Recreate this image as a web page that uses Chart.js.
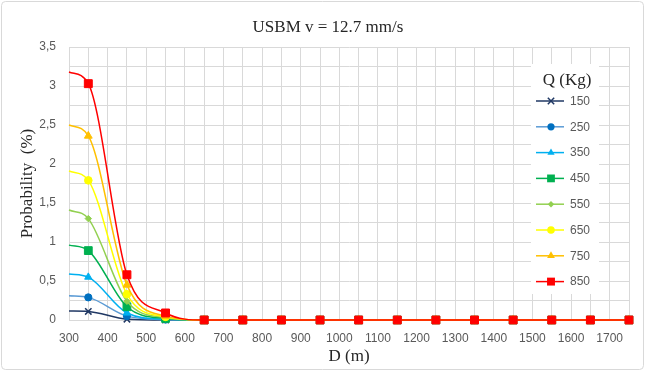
<!DOCTYPE html>
<html>
<head>
<meta charset="utf-8">
<script src="https://cdn.jsdelivr.net/npm/chart.js@4/dist/chart.umd.min.js"></script>
<style>
  html, body { margin: 0; padding: 0; background: #fff; }
  #wrap { width: 645px; height: 371px; }
</style>
</head>
<body>
<div id="wrap"><canvas id="usbmChart" width="645" height="371"></canvas></div>
<script>
(function () {
    'use strict';

    // distances D (m); first point at 300 has no marker
    const distances = [300, 350, 450, 550, 650, 750, 850, 950, 1050, 1150, 1250, 1350, 1450, 1550, 1650, 1750];
    const charges = ['150', '250', '350', '450', '550', '650', '750', '850'];

    const prob150 = [0.115, 0.11, 0.01, 0, 0, 0, 0, 0, 0, 0, 0, 0, 0, 0, 0, 0];
    const prob250 = [0.31, 0.29, 0.05, 0.005, 0, 0, 0, 0, 0, 0, 0, 0, 0, 0, 0, 0];
    const prob350 = [0.59, 0.55, 0.09, 0.01, 0, 0, 0, 0, 0, 0, 0, 0, 0, 0, 0, 0];
    const prob450 = [0.96, 0.89, 0.17, 0.02, 0, 0, 0, 0, 0, 0, 0, 0, 0, 0, 0, 0];
    const prob550 = [1.41, 1.30, 0.24, 0.03, 0, 0, 0, 0, 0, 0, 0, 0, 0, 0, 0, 0];
    const prob650 = [1.91, 1.79, 0.33, 0.04, 0, 0, 0, 0, 0, 0, 0, 0, 0, 0, 0, 0];
    const prob750 = [2.50, 2.36, 0.45, 0.05, 0, 0, 0, 0, 0, 0, 0, 0, 0, 0, 0, 0];
    const prob850 = [3.18, 3.03, 0.58, 0.09, 0, 0, 0, 0, 0, 0, 0, 0, 0, 0, 0, 0];

    const seriesValues = [prob150, prob250, prob350, prob450, prob550, prob650, prob750, prob850];

    const lineColors = ['#203864', '#5b9bd5', '#00b0f0', '#00b050', '#92d050', '#ffff00', '#ffc000', '#ff0000'];
    const markerColors = ['#203864', '#0070c0', '#00b0f0', '#00b050', '#92d050', '#ffff00', '#ffc000', '#ff0000'];
    const markerStyles = ['crossRot', 'circle', 'triangle', 'rect', 'rectRot', 'circle', 'triangle', 'rect'];
    const markerSizes = [4.5, 3.6, 4.2, 5.5, 3.2, 3.8, 4.5, 5.6];

    const tickFont = { family: 'Liberation Sans, Arial, sans-serif', size: 12 };
    const serif = 'Liberation Serif, Times New Roman, serif';

    const datasets = charges.map((q, i) => ({
        label: q,
        data: distances.map((d, k) => ({ x: d, y: seriesValues[i][k] })),
        borderColor: lineColors[i],
        backgroundColor: markerColors[i],
        pointBorderColor: markerColors[i],
        pointBackgroundColor: markerColors[i],
        pointStyle: markerStyles[i],
        pointRadius: ctx => ctx.dataIndex === 0 ? 0 : markerSizes[i],
        pointBorderWidth: markerStyles[i] === 'crossRot' ? 1.5 : 1,
        borderWidth: 1.5,
        cubicInterpolationMode: 'monotone',
        clip: false,
        order: charges.length - i
    }));

    function drawMarker(ctx, style, x, y, r, color) {
        ctx.save();
        ctx.fillStyle = color;
        ctx.strokeStyle = color;
        ctx.lineWidth = 1.5;
        ctx.beginPath();
        if (style === 'circle') {
            ctx.arc(x, y, r, 0, Math.PI * 2);
            ctx.fill();
        } else if (style === 'rect') {
            const s = r * Math.SQRT1_2;
            ctx.rect(x - s, y - s, 2 * s, 2 * s);
            ctx.fill();
        } else if (style === 'rectRot') {
            ctx.moveTo(x, y - r); ctx.lineTo(x + r, y); ctx.lineTo(x, y + r); ctx.lineTo(x - r, y);
            ctx.closePath();
            ctx.fill();
        } else if (style === 'triangle') {
            ctx.moveTo(x, y - r);
            ctx.lineTo(x + r * 0.866, y + r * 0.5);
            ctx.lineTo(x - r * 0.866, y + r * 0.5);
            ctx.closePath();
            ctx.fill();
        } else {
            const s = r * Math.SQRT1_2;
            ctx.moveTo(x - s, y - s); ctx.lineTo(x + s, y + s);
            ctx.moveTo(x + s, y - s); ctx.lineTo(x - s, y + s);
            ctx.stroke();
        }
        ctx.restore();
    }

    // frame, title and the overlaid legend box
    const decorPlugin = {
        id: 'decor',
        beforeDraw(chart) {
            const ctx = chart.ctx;
            ctx.save();
            ctx.fillStyle = '#fff';
            ctx.fillRect(0, 0, chart.width, chart.height);
            ctx.strokeStyle = '#d9d9d9';
            ctx.lineWidth = 1;
            ctx.beginPath();
            ctx.roundRect(1.5, 1.5, chart.width - 3, chart.height - 3, 4);
            ctx.stroke();
            ctx.fillStyle = '#262626';
            ctx.font = '17px ' + serif;
            ctx.textAlign = 'center';
            ctx.textBaseline = 'middle';
            ctx.fillText('USBM v = 12.7 mm/s', 328, 28);
            ctx.restore();
        },
        afterDraw(chart) {
            const ctx = chart.ctx;
            ctx.save();
            ctx.fillStyle = '#fff';
            ctx.fillRect(531, 64, 68, 230);
            ctx.fillStyle = '#262626';
            ctx.font = '17px ' + serif;
            ctx.textAlign = 'center';
            ctx.textBaseline = 'middle';
            ctx.fillText('Q (Kg)', 567, 81);
            ctx.font = '12px ' + tickFont.family;
            ctx.textAlign = 'left';
            charges.forEach((q, i) => {
                const y = 101 + i * 25.8;
                ctx.strokeStyle = lineColors[i];
                ctx.lineWidth = 1.5;
                ctx.beginPath();
                ctx.moveTo(536, y);
                ctx.lineTo(564, y);
                ctx.stroke();
                drawMarker(ctx, markerStyles[i], 551, y, markerSizes[i], markerColors[i]);
                ctx.fillStyle = '#595959';
                ctx.fillText(q, 570, y + 0.5);
            });
            ctx.restore();
        }
    };

    new Chart(document.getElementById('usbmChart'), {
        type: 'line',
        data: { datasets },
        options: {
            responsive: false,
            animation: false,
            layout: { padding: { top: 47, right: 16, left: 0, bottom: 0 } },
            plugins: { legend: { display: false }, tooltip: { enabled: false } },
            scales: {
                x: {
                    type: 'linear',
                    min: 300,
                    max: 1750,
                    afterFit: s => { s.height = 51; },
                    grid: { color: '#d9d9d9', drawTicks: false },
                    border: { color: '#d9d9d9' },
                    ticks: {
                        stepSize: 50,
                        autoSkip: false,
                        maxRotation: 0,
                        padding: 11,
                        color: '#595959',
                        font: tickFont,
                        callback: v => v % 100 === 0 ? String(v) : ''
                    },
                    title: {
                        display: true,
                        text: 'D (m)',
                        color: '#262626',
                        font: { family: serif, size: 17 },
                        padding: { top: 0, bottom: 4 }
                    }
                },
                y: {
                    min: 0,
                    max: 3.5,
                    afterFit: s => { s.width = 69; },
                    grid: { color: '#d9d9d9', drawTicks: false },
                    border: { color: '#d9d9d9' },
                    ticks: {
                        stepSize: 0.25,
                        autoSkip: false,
                        padding: 13,
                        color: '#595959',
                        font: tickFont,
                        callback: v => (Math.abs(v * 2 - Math.round(v * 2)) < 1e-6) ? String(v).replace('.', ',') : ''
                    },
                    title: {
                        display: true,
                        text: 'Probability  (%)',
                        color: '#262626',
                        font: { family: serif, size: 17 },
                        padding: { top: 17, bottom: 0 }
                    }
                }
            }
        },
        plugins: [decorPlugin]
    });
})();
</script>
</body>
</html>
